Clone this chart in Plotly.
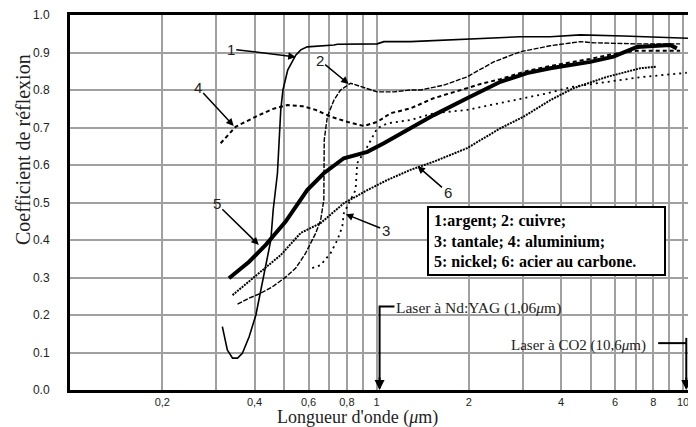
import math
import plotly.graph_objects as go

# Coefficient de reflexion en fonction de la longueur d'onde (um)
argent_l = [0.314, 0.326, 0.339, 0.352, 0.365, 0.384, 0.404, 0.419, 0.435, 0.452, 0.460,
            0.469, 0.475, 0.487, 0.495, 0.513, 0.545, 0.566, 0.594, 0.726, 0.745, 1.005,
            1.056, 1.29, 1.657, 2.182, 2.944, 3.688, 4.618, 6.392, 9.299, 10.54]
argent_r = [0.169, 0.107, 0.085, 0.085, 0.098, 0.142, 0.200, 0.267, 0.329, 0.400, 0.480,
            0.533, 0.578, 0.747, 0.800, 0.853, 0.893, 0.907, 0.915, 0.920, 0.922, 0.923,
            0.929, 0.929, 0.933, 0.938, 0.942, 0.942, 0.947, 0.944, 0.941, 0.938]

cuivre_l = [0.352, 0.384, 0.414, 0.457, 0.505, 0.545, 0.587, 0.633, 0.657, 0.673, 0.675,
            0.691, 0.726, 0.763, 0.823, 0.887, 1.005, 1.139, 1.29, 1.391, 1.657, 1.974,
            2.41, 2.944, 3.688, 4.618, 5.09, 7.067, 9.777]
cuivre_r = [0.229, 0.245, 0.256, 0.275, 0.301, 0.325, 0.365, 0.418, 0.453, 0.507, 0.667,
            0.729, 0.773, 0.800, 0.818, 0.809, 0.795, 0.795, 0.800, 0.800, 0.813, 0.835,
            0.875, 0.902, 0.918, 0.929, 0.926, 0.923, 0.923]

tantale_l = [0.617, 0.657, 0.708, 0.745, 0.773, 0.782, 0.812, 0.854, 0.865, 0.933, 1.005,
             1.084, 1.29, 1.537, 1.974, 2.535, 3.597, 4.383, 5.643, 7.244, 10.28]
tantale_r = [0.325, 0.333, 0.365, 0.400, 0.435, 0.471, 0.498, 0.533, 0.605, 0.649, 0.698,
             0.711, 0.720, 0.738, 0.747, 0.765, 0.791, 0.809, 0.822, 0.834, 0.846]

alu_l = [0.310, 0.347, 0.404, 0.457, 0.512, 0.573, 0.633, 0.708, 0.803, 0.909, 1.005,
         1.111, 1.29, 1.534, 1.974, 2.182, 2.535, 3.097, 3.688, 4.979, 5.916, 7.067, 9.777]
alu_r = [0.658, 0.702, 0.729, 0.749, 0.760, 0.757, 0.747, 0.729, 0.715, 0.704, 0.715,
         0.738, 0.751, 0.778, 0.805, 0.816, 0.829, 0.851, 0.864, 0.883, 0.896, 0.905, 0.905]

nickel_l = [0.330, 0.384, 0.435, 0.505, 0.594, 0.673, 0.782, 0.933, 1.056, 1.29, 1.537,
            1.974, 2.535, 3.097, 3.688, 4.979, 5.929, 7.067, 9.073, 9.539]
nickel_r = [0.298, 0.342, 0.387, 0.449, 0.533, 0.578, 0.618, 0.635, 0.658, 0.698, 0.733,
            0.778, 0.822, 0.845, 0.858, 0.875, 0.889, 0.915, 0.920, 0.911]

acier_l = [0.339, 0.404, 0.487, 0.566, 0.657, 0.782, 0.933, 1.084, 1.29, 1.537, 1.974,
           2.535, 3.019, 3.688, 4.392, 5.643, 7.244, 8.17]
acier_r = [0.253, 0.304, 0.360, 0.419, 0.445, 0.498, 0.533, 0.560, 0.587, 0.609, 0.645,
           0.698, 0.729, 0.773, 0.805, 0.835, 0.858, 0.862]

x_grid = [0.2, 0.3, 0.4, 0.5, 0.6, 0.7, 0.8, 0.9, 1, 2, 3, 4, 5, 6, 7, 8, 9, 10]
x_labels = ['0,2', '', '0,4', '', '0,6', '', '0,8', '', '1', '2', '', '4', '', '6', '', '8', '', '10']

# positions des lasers (telles que dessinees)
yag_l = 1.023
co2_l = 10.24

# la page html a une marge de 8px : la figure est decalee d'autant
W, H = 688, 419
PL, PT, PW, PH = 62, 7, 626, 375   # zone de trace dans la figure


def px(xw):
    # position horizontale dans la fenetre -> papier
    return (xw - 8 - PL) / PW


def py(yw):
    return (PT + PH - (yw - 8)) / PH


fig = go.Figure()

styles = [
    (argent_l, argent_r, 1.6, 'solid'),
    (cuivre_l, cuivre_r, 1.4, '5px,1.5px'),
    (tantale_l, tantale_r, 1.8, '2px,4px'),
    (alu_l, alu_r, 2.0, '4px,3px'),
    (nickel_l, nickel_r, 4.0, 'solid'),
    (acier_l, acier_r, 2.0, '2px,1px'),
]
for xs, ys, w, d in styles:
    fig.add_trace(go.Scatter(x=xs, y=ys, mode='lines', line=dict(color='black', width=w, dash=d),
                             hoverinfo='skip', showlegend=False))

# crochets des lasers
fig.add_trace(go.Scatter(x=[1.144, yag_l, yag_l, None, 8.29, co2_l, None, co2_l, co2_l],
                         y=[0.223, 0.223, 0.005, None, 0.125, 0.125, None, 0.139, 0.005],
                         mode='lines', line=dict(color='black', width=2),
                         hoverinfo='skip', showlegend=False))

fig.update_xaxes(type='log', range=[-1, 1.042], tickmode='array', tickvals=x_grid, ticktext=x_labels,
                 showgrid=True, gridcolor='#a0a0a0', gridwidth=2,
                 showline=True, linecolor='black', linewidth=3, mirror=True,
                 ticks='', tickfont=dict(family='Liberation Sans', size=11, color='#222'),
                 zeroline=False, automargin=False)
fig.update_yaxes(range=[0, 1], dtick=0.1, tickformat='.1f',
                 showgrid=True, gridcolor='#a0a0a0', gridwidth=2,
                 showline=True, linecolor='black', linewidth=3, mirror=False,
                 ticks='', ticklabelstandoff=15,
                 tickfont=dict(family='Liberation Sans', size=12, color='#222'),
                 zeroline=False, automargin=False)

# la grille horizontale s'arrete a 10 um
fig.add_shape(type='rect', xref='paper', yref='paper', x0=px(685), x1=1.0, y0=0, y1=1,
              fillcolor='white', line=dict(width=0), layer='between')

ann = []
# numeros des courbes avec fleches
labels = [('1', 0.545, 0.888, -65, -8), ('2', 0.811, 0.816, -29, -24), ('3', 0.793, 0.469, 40, 16),
          ('4', 0.342, 0.704, -36, -39), ('5', 0.413, 0.387, -42, -41), ('6', 1.36, 0.597, 30, 26)]
for t, lx, ry, dx, dy in labels:
    ann.append(dict(x=math.log10(lx), y=ry, xref='x', yref='y', text=t, showarrow=True,
                    ax=dx, ay=dy, arrowhead=2, arrowsize=1, arrowwidth=1.5, arrowcolor='black',
                    font=dict(family='Liberation Sans', size=15, color='#222')))

# pointes des fleches des lasers
for lx in [yag_l, co2_l]:
    ann.append(dict(x=math.log10(lx), y=0, xref='x', yref='y', text='', showarrow=True,
                    ax=0, ay=-14, arrowhead=2, arrowsize=1, arrowwidth=2, arrowcolor='black'))

ann.append(dict(x=px(394), y=py(308), xref='paper', yref='paper', xanchor='left', yanchor='middle',
                text='Laser à Nd:YAG (1,06<i>μ</i>m)', showarrow=False,
                font=dict(family='Liberation Serif', size=15.5, color='#222')))
ann.append(dict(x=px(648), y=py(345), xref='paper', yref='paper', xanchor='right', yanchor='middle',
                text='Laser à CO2 (10,6<i>μ</i>m)', showarrow=False,
                font=dict(family='Liberation Serif', size=15, color='#222')))

# boite de legende
ann.append(dict(x=px(546.5), y=py(241), xref='paper', yref='paper', xanchor='center', yanchor='middle',
                text='<b>1:argent; 2: cuivre;<br>3: tantale; 4: aluminium;<br>5: nickel; 6: acier au carbone.</b>',
                showarrow=False, align='left', width=225, height=56, borderpad=5,
                bordercolor='black', borderwidth=2, bgcolor='white',
                font=dict(family='Liberation Serif', size=16, color='black')))

# titres des axes
ann.append(dict(x=px(23), y=py(150), xref='paper', yref='paper', xanchor='center', yanchor='middle',
                text='Coefficient de réflexion', textangle=-90, showarrow=False,
                font=dict(family='Liberation Serif', size=20, color='#222')))
ann.append(dict(x=px(357), y=py(417), xref='paper', yref='paper', xanchor='center', yanchor='middle',
                text="Longueur d'onde (<i>μ</i>m)", showarrow=False,
                font=dict(family='Liberation Serif', size=18, color='#222')))

fig.update_layout(width=W, height=H, autosize=False,
                  margin=dict(l=PL, r=W - PL - PW, t=PT, b=H - PT - PH, pad=0),
                  plot_bgcolor='white', paper_bgcolor='white',
                  annotations=ann, showlegend=False)

fig.write_html("out.html")
